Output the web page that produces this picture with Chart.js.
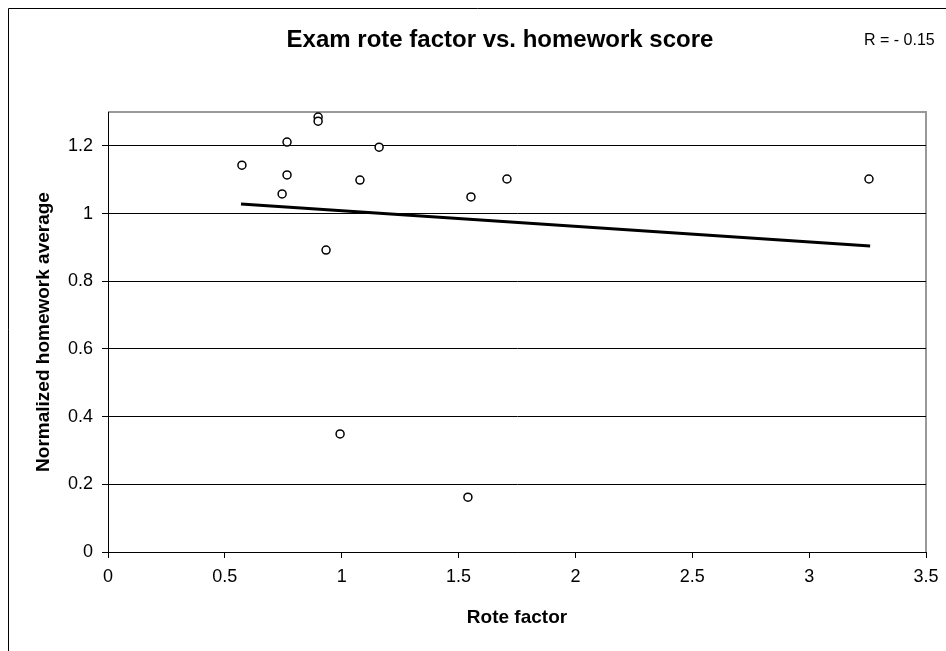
<!DOCTYPE html>
<html lang="en">
<head>
    <meta charset="UTF-8">
    <title>Exam rote factor vs. homework score</title>
    <script src="https://cdn.jsdelivr.net/npm/chart.js"></script>
    <style>
        html, body {
            margin: 0;
            padding: 0;
            background: #fff;
        }
        .chart-container {
            position: relative;
            width: 946px;
            height: 651px;
        }
    </style>
</head>
<body>
    <div class="chart-container">
        <canvas id="roteChart"></canvas>
    </div>

<script>
// data
const rotefactor = [0.573, 0.745, 0.766, 0.766, 0.899, 0.899, 0.933, 0.993, 1.078, 1.160, 1.540, 1.553, 1.707, 3.256];
const homework   = [1.143, 1.058, 1.211, 1.114, 1.285, 1.273, 0.892, 0.349, 1.099, 1.196, 0.162, 1.049, 1.102, 1.102];
// trend line end points, as drawn
const trendX = [0.569, 3.261];
const trendY = [1.028, 0.904];

const xTicks = [0, 0.5, 1, 1.5, 2, 2.5, 3, 3.5];
const yTicks = [0, 0.2, 0.4, 0.6, 0.8, 1, 1.2];

const chartTitle = 'Exam rote factor vs. homework score';
const rLabel = 'R = - 0.15';
const xTitle = 'Rote factor';
const yTitle = 'Normalized homework average';

const FONT = '"Liberation Sans", Arial, sans-serif';

// 1.0 -> "1", 0.5 -> "0.5"
const fmt = (v) => String(Math.round(v * 10) / 10);

// frame, plot border and the title texts
const decor = {
    id: 'decor',
    beforeDraw(chart) {
        const ctx = chart.ctx;
        const a = chart.chartArea;
        ctx.save();
        ctx.fillStyle = '#fff';
        ctx.fillRect(0, 0, chart.width, chart.height);
        // outer frame (left + top only, rest is cropped)
        ctx.strokeStyle = '#000';
        ctx.lineWidth = 1;
        ctx.beginPath();
        ctx.moveTo(8.5, chart.height);
        ctx.lineTo(8.5, 8.5);
        ctx.lineTo(chart.width, 8.5);
        ctx.stroke();
        // plot area border, grey top and right
        ctx.strokeStyle = '#999';
        ctx.lineWidth = 2;
        ctx.beginPath();
        ctx.moveTo(a.left, a.top);
        ctx.lineTo(a.right, a.top);
        ctx.lineTo(a.right, a.bottom);
        ctx.stroke();
        ctx.restore();
    },
    afterDraw(chart) {
        const ctx = chart.ctx;
        ctx.save();
        ctx.fillStyle = '#000';
        ctx.textBaseline = 'middle';
        ctx.textAlign = 'center';
        ctx.font = 'bold 24px ' + FONT;
        ctx.fillText(chartTitle, 500, 40);
        ctx.textAlign = 'left';
        ctx.font = '16px ' + FONT;
        ctx.fillText(rLabel, 864, 41);
        ctx.restore();
    }
};

const ctx = document.getElementById('roteChart').getContext('2d');
new Chart(ctx, {
    type: 'scatter',
    data: {
        datasets: [{
            label: 'students',
            data: rotefactor.map((x, i) => ({x: x, y: homework[i]})),
            pointStyle: 'circle',
            pointRadius: 4,
            pointBorderWidth: 1.5,
            pointBorderColor: '#000',
            pointBackgroundColor: '#fff',
            showLine: false
        }, {
            label: 'trend',
            data: trendX.map((x, i) => ({x: x, y: trendY[i]})),
            showLine: true,
            borderColor: '#000',
            borderWidth: 3,
            pointRadius: 0
        }]
    },
    options: {
        responsive: true,
        maintainAspectRatio: false,
        animation: false,
        layout: {
            padding: {left: 10, right: 20, top: 112, bottom: 10}
        },
        plugins: {
            legend: {display: false},
            title: {display: false},
            tooltip: {enabled: false}
        },
        scales: {
            x: {
                type: 'linear',
                min: 0,
                max: 3.5,
                afterBuildTicks: (scale) => {
                    scale.ticks = xTicks.map(v => ({value: v}));
                },
                afterFit: (scale) => {
                    scale.height = 89;
                    scale.paddingLeft = 0;
                    scale.paddingRight = 0;
                },
                ticks: {
                    color: '#000',
                    padding: 8,
                    maxRotation: 0,
                    callback: fmt,
                    font: {family: FONT, size: 18}
                },
                grid: {
                    drawOnChartArea: false,
                    drawTicks: true,
                    tickLength: 6,
                    color: '#000'
                },
                border: {color: '#000', width: 1},
                title: {
                    display: true,
                    text: xTitle,
                    color: '#000',
                    padding: {top: 0, bottom: 12},
                    font: {family: FONT, size: 19, weight: 'bold'}
                }
            },
            y: {
                type: 'linear',
                min: 0,
                max: 1.3,
                afterBuildTicks: (scale) => {
                    scale.ticks = yTicks.map(v => ({value: v}));
                },
                afterFit: (scale) => {
                    scale.width = 98;
                    scale.paddingTop = 0;
                    scale.paddingBottom = 0;
                },
                ticks: {
                    color: '#000',
                    padding: 9,
                    callback: fmt,
                    font: {family: FONT, size: 18}
                },
                grid: {
                    color: '#000',
                    lineWidth: 1,
                    tickLength: 6
                },
                border: {color: '#000', width: 1},
                title: {
                    display: true,
                    text: yTitle,
                    color: '#000',
                    padding: {top: 22, bottom: 0},
                    font: {family: FONT, size: 19, weight: 'bold'}
                }
            }
        }
    },
    plugins: [decor]
});
</script>
</body>
</html>
